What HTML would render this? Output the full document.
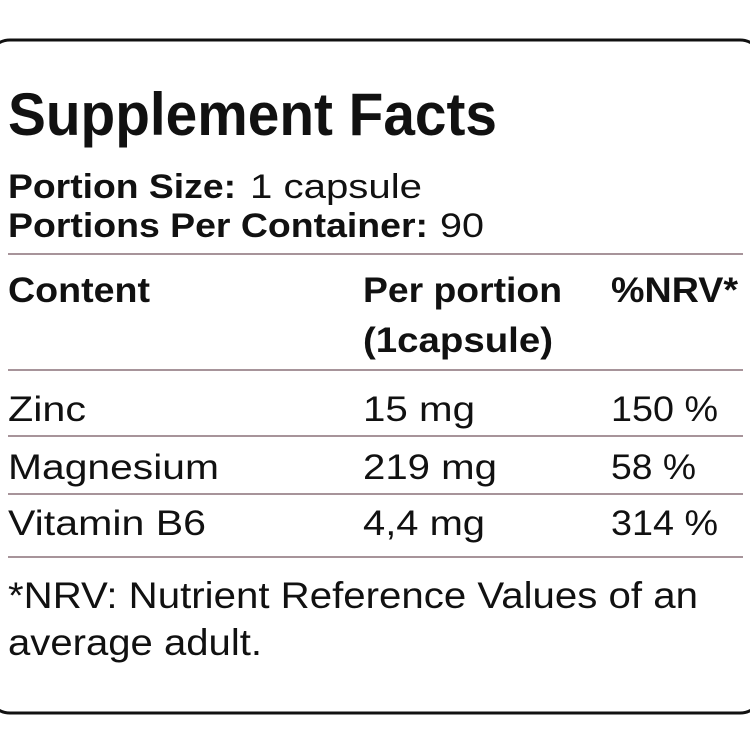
<!DOCTYPE html>
<html><head><style>html,body{margin:0;padding:0;background:#fff;}svg{display:block}</style></head>
<body>
<svg width="750" height="750" xmlns="http://www.w3.org/2000/svg" font-family="Liberation Sans, sans-serif" fill="#111">
<rect x="-12" y="40" width="774" height="673" rx="22" fill="none" stroke="#111" stroke-width="3"/>
<text x="8" y="135" font-size="60" font-weight="bold" textLength="489" lengthAdjust="spacingAndGlyphs">Supplement Facts</text>
<text x="8" y="198" font-size="34" font-weight="bold" textLength="228" lengthAdjust="spacingAndGlyphs">Portion Size:</text>
<text x="250" y="198" font-size="34" textLength="172" lengthAdjust="spacingAndGlyphs">1 capsule</text>
<text x="8" y="237" font-size="34" font-weight="bold" textLength="420" lengthAdjust="spacingAndGlyphs">Portions Per Container:</text>
<text x="440" y="237" font-size="34" textLength="44" lengthAdjust="spacingAndGlyphs">90</text>
<g stroke="#8a7078" stroke-width="1.5">
<line x1="8" y1="254" x2="743" y2="254"/>
<line x1="8" y1="370" x2="743" y2="370"/>
<line x1="8" y1="436" x2="743" y2="436"/>
<line x1="8" y1="494" x2="743" y2="494"/>
<line x1="8" y1="557" x2="743" y2="557"/>
</g>
<g font-size="35" font-weight="bold">
<text x="8" y="302" textLength="142" lengthAdjust="spacingAndGlyphs">Content</text>
<text x="363" y="302" textLength="199" lengthAdjust="spacingAndGlyphs">Per portion</text>
<text x="363" y="352" textLength="190" lengthAdjust="spacingAndGlyphs">(1capsule)</text>
<text x="611" y="302" textLength="127" lengthAdjust="spacingAndGlyphs">%NRV*</text>
</g>
<g font-size="35">
<text x="8" y="421" textLength="78" lengthAdjust="spacingAndGlyphs">Zinc</text>
<text x="363" y="421" textLength="112" lengthAdjust="spacingAndGlyphs">15 mg</text>
<text x="611" y="421" textLength="107" lengthAdjust="spacingAndGlyphs">150 %</text>
<text x="8" y="479" textLength="211" lengthAdjust="spacingAndGlyphs">Magnesium</text>
<text x="363" y="479" textLength="134" lengthAdjust="spacingAndGlyphs">219 mg</text>
<text x="611" y="479" textLength="85" lengthAdjust="spacingAndGlyphs">58 %</text>
<text x="8" y="535" textLength="198" lengthAdjust="spacingAndGlyphs">Vitamin B6</text>
<text x="363" y="535" textLength="122" lengthAdjust="spacingAndGlyphs">4,4 mg</text>
<text x="611" y="535" textLength="107" lengthAdjust="spacingAndGlyphs">314 %</text>
</g>
<g font-size="37">
<text x="8" y="608" textLength="690" lengthAdjust="spacingAndGlyphs">*NRV: Nutrient Reference Values of an</text>
<text x="8" y="655" textLength="254" lengthAdjust="spacingAndGlyphs">average adult.</text>
</g>
</svg>
</body></html>
